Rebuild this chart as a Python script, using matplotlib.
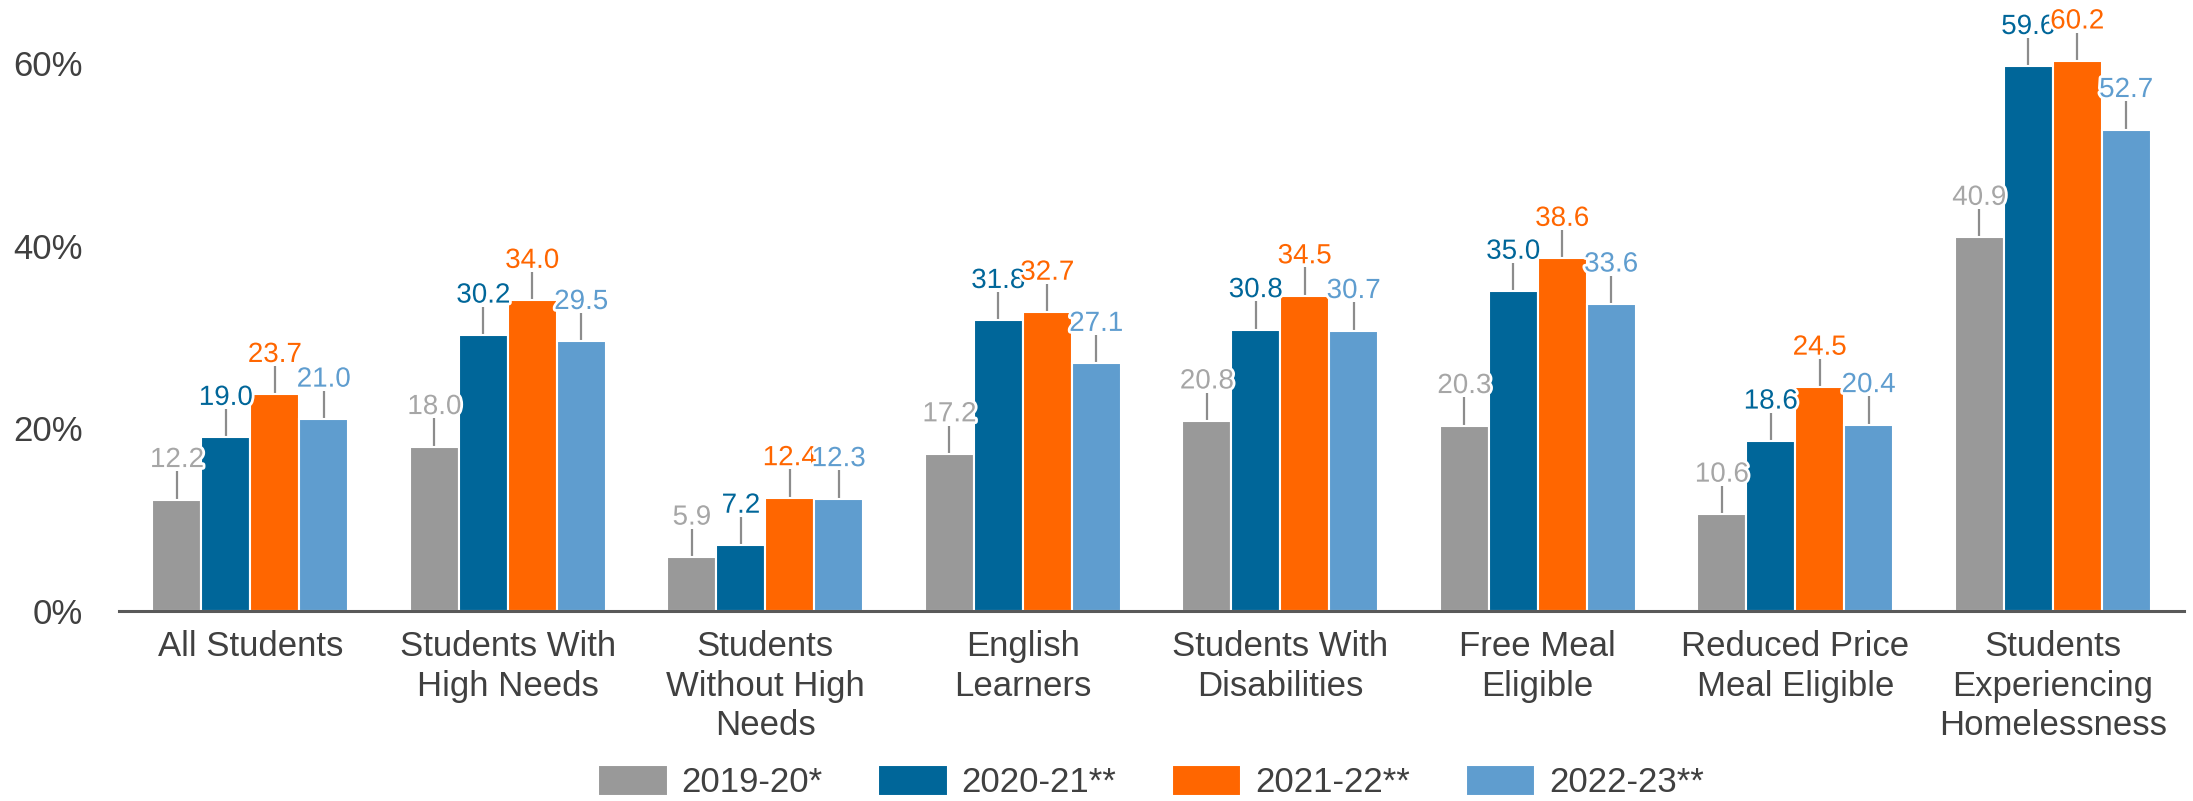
import matplotlib
matplotlib.use("Agg")
import matplotlib.pyplot as plt
import matplotlib.patheffects as pe
import numpy as np
from matplotlib.ticker import FuncFormatter

plt.rcParams["font.family"] = ["Liberation Sans", "DejaVu Sans"]

categories = [
    "All Students",
    "Students With\nHigh Needs",
    "Students\nWithout High\nNeeds",
    "English\nLearners",
    "Students With\nDisabilities",
    "Free Meal\nEligible",
    "Reduced Price\nMeal Eligible",
    "Students\nExperiencing\nHomelessness",
]
years = ["2019-20*", "2020-21**", "2021-22**", "2022-23**"]
v2019 = [12.2, 18.0, 5.9, 17.2, 20.8, 20.3, 10.6, 40.9]
v2020 = [19.0, 30.2, 7.2, 31.8, 30.8, 35.0, 18.6, 59.6]
v2021 = [23.7, 34.0, 12.4, 32.7, 34.5, 38.6, 24.5, 60.2]
v2022 = [21.0, 29.5, 12.3, 27.1, 30.7, 33.6, 20.4, 52.7]
# upper error (percentage points)
err2019 = [3.1] * 8
err2020 = [3.1] * 8
err2021 = [3.1] * 8
err2022 = [3.1] * 8

series = [v2019, v2020, v2021, v2022]
errors = [err2019, err2020, err2021, err2022]

# ── styles ───────────────────────────────────────────────────────────────────
BAR_COLORS = ["#999999", "#006699", "#FF6600", "#5F9DCF"]
LBL_COLORS = ["#A6A6A6", "#006699", "#FF6600", "#5F9DCF"]
TEXT = "#404040"
ERR = "#8C8C8C"

fig = plt.figure(figsize=(21.93, 8.01), dpi=100)
ax = fig.add_axes([119 / 2193, 190 / 801, (2184 - 119) / 2193, (611 - 8) / 801])

x = np.arange(len(categories))
width = 0.19
offsets = (np.arange(4) - 1.5) * width

for i, (vals, errs) in enumerate(zip(series, errors)):
    xs = x + offsets[i]
    ax.bar(xs, vals, width, color=BAR_COLORS[i], edgecolor="white",
           linewidth=1.5, label=years[i], zorder=2)
    ax.errorbar(xs, vals, yerr=[np.zeros(len(vals)), errs], fmt="none",
                ecolor=ERR, elinewidth=1.6, capsize=0, zorder=1)
    for xx, v, e in zip(xs, vals, errs):
        ax.annotate(f"{v:.1f}", xy=(xx, v + e), xytext=(0, 3),
                    textcoords="offset points", ha="center", va="baseline",
                    fontsize=20, color=LBL_COLORS[i], zorder=3,
                    path_effects=[pe.withStroke(linewidth=4, foreground="white")])

ax.set_xlim(-0.51, 7.51)
ax.set_ylim(0, 66)
ax.set_yticks([0, 20, 40, 60])
ax.yaxis.set_major_formatter(FuncFormatter(lambda v, p: f"{v:.0f}%"))
ax.set_xticks(x)
ax.set_xticklabels(categories, linespacing=1.25)
ax.tick_params(axis="both", length=0, labelsize=25, colors=TEXT)
ax.tick_params(axis="x", pad=14)
ax.tick_params(axis="y", pad=26)

for s in ["top", "right", "left"]:
    ax.spines[s].set_visible(False)
ax.spines["bottom"].set_color("#595959")
ax.spines["bottom"].set_linewidth(2.2)
ax.spines["bottom"].set_zorder(4)

leg = fig.legend(loc="center", bbox_to_anchor=(1151 / 2193, 19 / 801), ncol=4,
                 frameon=False, fontsize=25, handlelength=2.0, handleheight=1.0,
                 handletextpad=0.4, columnspacing=1.6)
for t in leg.get_texts():
    t.set_color(TEXT)

fig.savefig("out.png", dpi=100)
